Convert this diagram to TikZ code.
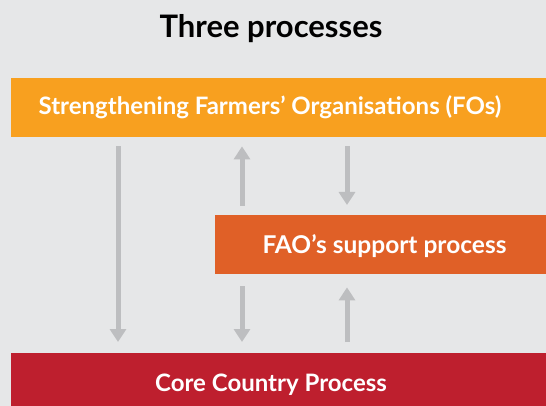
\documentclass[tikz,border=0pt]{standalone}
\usepackage{fontspec}
\setmainfont{Lato}
\usetikzlibrary{arrows.meta}
\definecolor{bg}{HTML}{E6E7E8}
\definecolor{foc}{HTML}{F8A01F}
\definecolor{faoc}{HTML}{E06027}
\definecolor{corec}{HTML}{BE1F2E}
\definecolor{arrc}{HTML}{BDBEC0}
\begin{document}
\begin{tikzpicture}[x=1pt,y=-1pt,
  bar/.style={rectangle, draw=none, inner sep=0pt, anchor=north west},
  bartext/.style={text=white, font=\bfseries\fontsize{24}{28}\selectfont, inner sep=0pt, anchor=base},
  arr/.style={arrc, line width=5pt, -{Triangle[width=16pt,length=13pt]}}]
\fill[bg] (0,0) rectangle (546,406);
\useasboundingbox (0,0) rectangle (546,406);
\node[font=\bfseries\fontsize{31}{36}\selectfont, inner sep=0pt, anchor=base] (title) at (271,38) {Three processes};
\node[bar, fill=foc, minimum width=540pt, minimum height=59pt] (fo) at (11,78) {};
\node[bartext] (fotext) at (270,115) {Strengthening Farmers’ Organisations (FOs)};
\node[bar, fill=faoc, minimum width=336pt, minimum height=59pt] (fao) at (215,215) {};
\node[bartext, font=\bfseries\fontsize{24.5}{28}\selectfont] (faotext) at (384.5,253) {FAO’s support process};
\node[bar, fill=corec, minimum width=540pt, minimum height=60pt] (core) at (11,353) {};
\node[bartext] (coretext) at (271,391) {Core Country Process};
\coordinate (xa) at (118,0);
\coordinate (xb) at (242,0);
\coordinate (xc) at (347,0);
\draw[arr, shorten <=9pt, shorten >=11pt] (fo.south -| xa) -- (core.north -| xa);
\draw[arr, shorten <=9pt, shorten >=9pt] (fao.north -| xb) -- (fo.south -| xb);
\draw[arr, shorten <=9pt, shorten >=10pt] (fo.south -| xc) -- (fao.north -| xc);
\draw[arr, shorten <=12pt, shorten >=11pt] (fao.south -| xb) -- (core.north -| xb);
\draw[arr, shorten <=11pt, shorten >=13pt] (core.north -| xc) -- (fao.south -| xc);
\end{tikzpicture}
\end{document}
